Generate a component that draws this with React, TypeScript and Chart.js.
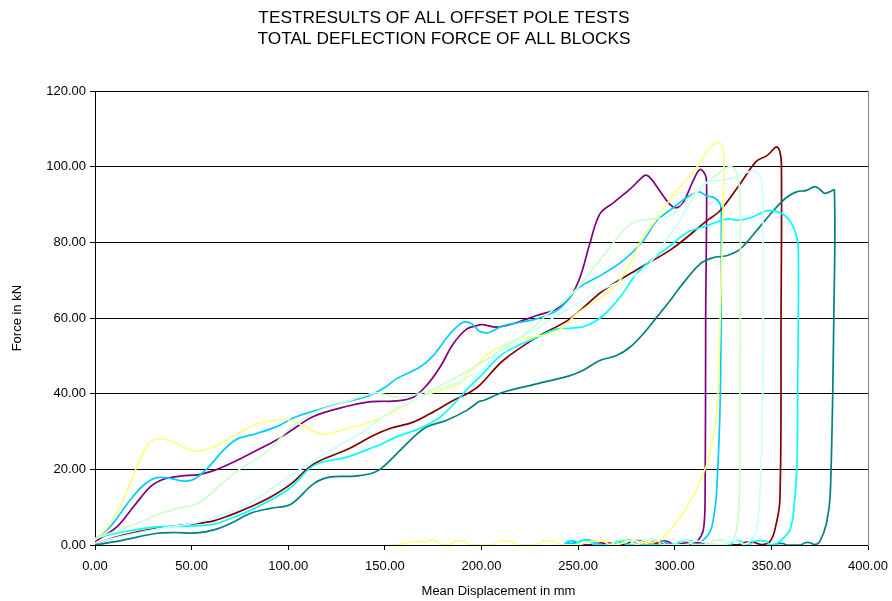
import { useEffect, useRef } from 'react';
import { Chart, registerables } from 'chart.js';

Chart.register(...registerables);

const WIDTH = 892;
const HEIGHT = 601;
const FONT = "'Liberation Sans', Arial, Helvetica, sans-serif";

const titleLines = ['TESTRESULTS OF ALL OFFSET POLE TESTS', 'TOTAL DEFLECTION FORCE OF ALL BLOCKS'];
const xAxisCaption = 'Mean Displacement in mm';
const yAxisCaption = 'Force in kN';

const xTickStep = 50;
const xMax = 400;
const yTickStep = 20;
const yMax = 120;

// Measured curves: [mean displacement (mm), force (kN)] in recording order,
// including the unloading path back along the baseline after failure.
const testYellow: [number, number][] = [
  [0, 1.2], [7, 5], [14.7, 11.9], [21.6, 20.6], [27.7, 26.8], [33.8, 28.1], [40.7, 27.2], [49.4, 25.1],
  [54.5, 24.9], [63.2, 26.4], [73.6, 29.4], [84, 32.1], [94.4, 33.1], [101, 33], [108, 31.5], [116.9, 29.3],
  [124, 29.8], [130.7, 30.8], [138, 31.8], [144.6, 33], [150.5, 34.2], [156, 35.6], [168, 39.1], [178.5, 40.9],
  [189, 42.8], [194, 46], [199.2, 48.3], [204.4, 51], [220, 54.5], [235.4, 55.8], [242.3, 57.6], [249.2, 61.1],
  [263, 65.9], [270, 69], [276.8, 74.3], [283, 80.8], [291, 86.5], [299.2, 92.5], [311.3, 99.8], [318.2, 105],
  [322, 106.5], [324.7, 105.5], [325.5, 102.4], [325.1, 91.9], [323.6, 62], [321.6, 34.8], [317.3, 22.4],
  [313.9, 18], [311.2, 14.5], [304.3, 8.4], [297.5, 4], [292.3, 1.3], [285.4, 0.5], [281, 1.0], [276, 1.1],
  [272, 0.3], [266, 0.2], [263, 1.0], [258, 1.1], [253, 0.4], [249, 0.1], [241, 0.1], [237, 1.0], [232, 1.0],
  [228.5, 0.1], [218.5, 0.1], [215, 1.0], [209.5, 1.0], [206, 0.1], [194, 0.1], [191, 1.0], [186.5, 1.0],
  [183.5, 0.1], [179.5, 0.1], [175, 1.3], [170, 0.8], [166, 1.0], [162, 0.6], [158, 0.2], [152, 0],
];

const testBlue: [number, number][] = [
  [0, 1.5], [7.8, 4.8], [18.2, 11.9], [25.1, 15.8], [32, 17.8], [39, 17.6], [45.9, 16.9], [51, 17.3],
  [58, 20.2], [66.5, 25.1], [73.5, 28], [83.7, 29.5], [94, 31.3], [101, 33.2], [104.5, 34], [113, 35.4],
  [127, 37.5], [139, 39], [144, 40], [151, 42], [156, 44], [168, 47], [175, 50.1], [183.6, 55.8],
  [190.5, 58.9], [195, 58.5], [199, 56.5], [204, 56.2], [211, 58], [220, 58.9], [228.5, 59.8], [239, 62],
  [245.8, 65.5], [249.2, 67.7], [263, 71.7], [273.3, 75.2], [283.6, 80.4], [290.6, 85.7], [299.2, 89.2],
  [306.2, 91.9], [312.6, 93.4], [316.5, 92.3], [319.9, 92], [322.4, 91], [323.8, 89.7], [324.1, 83],
  [323.6, 40], [321.6, 13.6], [319.9, 6.6], [318.2, 3.5], [314.7, 1.3], [311, 0.3], [308.5, 1.1], [304, 1.1],
  [300, 0.2], [297, 0.2], [294, 1.0], [289, 1.0], [286, 0.2], [280.5, 0.2], [278, 1.2], [273, 1.2],
  [270.5, 0.2], [260, 0.3], [257, 1.2], [252, 1.2], [249, 0.3], [246, 1.0], [244, 0.5], [248, 0.2], [251, 0],
];

const testPurple: [number, number][] = [
  [0, 0.9], [11.3, 4.8], [19.9, 10.1], [28.6, 15.4], [35.5, 17.4], [44.2, 18.2], [54.5, 18.7], [63.2, 20],
  [73.6, 22.4], [84, 25.1], [94.4, 27.9], [101.3, 30.2], [113, 34], [130.5, 36.7], [141, 37.8], [148, 38],
  [156, 38.1], [164.7, 39.1], [171.6, 42.2], [178.5, 47], [185.4, 53.2], [192.3, 57.1], [199, 58.2],
  [201, 58.3], [207.8, 57.6], [216.4, 58.5], [228.5, 60.7], [238.8, 62.4], [245.8, 65.5], [251, 70.8],
  [256, 79.6], [261.2, 87.5], [268.2, 90.5], [276.8, 94.1], [282, 96.7], [285, 97.8], [288, 96.7],
  [292.3, 93.6], [297.5, 90.1], [301, 89.2], [304.3, 90.5], [309.5, 96.3], [313, 99.3], [315.7, 98],
  [316.5, 95.8], [316, 60], [315.7, 11.9], [314.8, 4], [312.2, 1.3], [309, 0.2], [306, 0.6], [302, 0.2],
  [299, 0.2], [296, 1.0], [292, 0.9], [289, 0.1], [285.5, 0.2], [283, 1.0], [277.5, 1.0], [275, 0.2],
  [266, 0.1], [262, 0.6], [258, 0.1], [250, 0.1], [248, 0.9], [245, 0.9], [243, 0.2],
];

const testLightGreen: [number, number][] = [
  [0, 1.6], [7.8, 3.1], [19.9, 5.3], [32, 7.9], [42.4, 9.7], [51.1, 10.5], [58, 12.7], [66.7, 16.7],
  [75.3, 20.2], [84, 22.9], [92.6, 26.4], [100, 30.5], [113.4, 35], [130.7, 38], [144.6, 40.2], [150, 39.8],
  [156, 39.1], [164.7, 39.6], [175, 41.3], [188.8, 44.8], [199, 47.9], [220, 54.9], [235.4, 61.5],
  [249.2, 67.7], [266.4, 78.7], [276.8, 84.8], [287, 86.2], [292.3, 86.4], [299.2, 87.5], [307.8, 91.9],
  [316.5, 95.8], [323.4, 98.5], [326.8, 99.8], [329.5, 100], [332, 98.5], [333.3, 95.4], [334, 87.5],
  [333.8, 40], [333.4, 11.9], [332, 4], [330.2, 1.3], [327, 0.3], [325.5, 1.2], [320, 1.2], [318, 0.2],
  [309, 0.2], [307.5, 1.1], [302, 1.1], [299.5, 0.2], [293, 0.2], [291, 1.3], [284, 1.3], [281.5, 0.2],
  [279, 0.3], [277, 1.2], [269.5, 1.2], [267.5, 0.2], [265, 0],
];

const testDarkRed: [number, number][] = [
  [0, 0.3], [14.7, 2.6], [32, 4.4], [49.4, 5.5], [61.5, 6.4], [70.1, 7.9], [80.5, 10.1], [90.9, 12.7],
  [101.3, 16.1], [113.4, 21.5], [130.7, 25.3], [144.3, 29], [152.6, 30.8], [164.7, 32.5], [173.3, 34.7],
  [185.4, 38.2], [194, 40.4], [199, 42.2], [211.2, 48.8], [228.5, 54.9], [245.8, 59.8], [263, 67.3],
  [281, 73], [298.5, 78.3], [316.5, 85.7], [323.4, 88.4], [333.7, 95.4], [342.3, 101.5], [347.5, 102.9],
  [351, 104.6], [352.6, 105.3], [354.3, 104.2], [355.2, 100.7], [355, 60], [354.4, 11.9], [351.8, 4],
  [349.2, 0.9], [345, 0.1], [341, 0.7], [336.5, 0.7], [333, 0.1], [318, 0.1], [314, 0.6], [309.5, 0.6],
  [306, 0.1], [295, 0.1], [292, 0.6], [287, 0.6], [284, 0.1], [270, 0.1], [266, 0.5], [262, 0.1], [258, 0],
];

const testTeal: [number, number][] = [
  [0, 0], [14.7, 1.3], [32, 3.1], [40.7, 3.3], [52.8, 3.2], [61.5, 4], [70.1, 5.7], [80.5, 8.4], [90.9, 9.7],
  [101.3, 10.8], [113.4, 16.3], [122.1, 18], [134.2, 18.2], [142.9, 18.9], [148, 20.2], [158, 25.1],
  [165, 28.6], [171.6, 31.2], [182, 33], [192.3, 35.6], [199, 38], [201, 38.2], [211.2, 40.4],
  [228.5, 42.6], [245.8, 44.8], [252.6, 46.2], [261.2, 48.8], [269.9, 50.1], [276.8, 52.3], [283.6, 55.8],
  [290.6, 60.2], [297.5, 64.6], [302.6, 68.1], [313, 74.3], [319.9, 76], [326.8, 76.5], [333.7, 78.2],
  [342.3, 83.1], [351, 88.4], [357.8, 91.9], [363, 93.4], [368.2, 93.8], [372.5, 94.8], [375, 94.1],
  [377.6, 93], [380.2, 93.4], [382.6, 93.8], [382.3, 60], [380.5, 13.6], [378.5, 5.7], [375, 0.9],
  [372.5, 0.1], [370, 0.6], [367.5, 0.6], [365, 0], [358, 0], [356, 0.4], [353.5, 0.4], [351, 0],
];

const testCyan: [number, number][] = [
  [0, 1.8], [14.7, 3.5], [32, 4.8], [49.4, 5], [61.5, 5.5], [70.1, 7], [80.5, 9.2], [90.9, 11.9],
  [101.3, 15.2], [113.4, 21.1], [130.7, 23.3], [144.3, 25.9], [148, 26.6], [156, 28.6], [168, 30.8],
  [178.5, 33.8], [188.8, 39], [194, 42], [199.2, 44.5], [211.2, 50.6], [228.5, 54.9], [238.8, 57.1],
  [245.8, 57.3], [254.3, 58], [263, 60.7], [271.6, 65.5], [280.2, 71.7], [290.6, 76.5], [297.5, 79.1],
  [306.2, 82.6], [316.5, 84.4], [326.8, 86.2], [333.7, 85.9], [340.6, 86.8], [347.5, 88.4], [354.4, 87.9],
  [359.6, 85.7], [363.2, 81.3], [364, 76], [363.6, 40], [363.2, 20.6], [361.4, 8.4], [359.6, 4],
  [356.2, 1.8], [352.8, 0.4], [349, 0.2], [347.5, 1.0], [341, 1.0], [339, 0.2], [335.5, 0.2], [334.5, 1.0],
  [330.5, 1.0], [329, 0.2], [310, 0.2], [308, 1.0], [303, 1.0], [301, 0.2], [275, 0.2], [273, 0.9],
  [270, 0.9], [268, 0.2], [258, 0.2], [256, 1.1], [251, 1.1], [249.5, 0.3], [249, 1.0], [244.5, 1.0],
  [243, 0.2],
];

const testLightCyan: [number, number][] = [
  [0, 0.5], [15, 2.4], [30, 4], [52.4, 5.9], [65, 7.8], [78.5, 10.5], [96, 16.6], [113, 22.2], [125, 26],
  [139, 30], [151, 34.6], [164.7, 38.2], [175, 40.9], [188.8, 43.1], [194, 44.8], [199.2, 45.7],
  [211.2, 52.3], [228.5, 57.1], [238.8, 60.7], [249.2, 63.7], [263, 67.7], [276.8, 70.8], [283.6, 72.5],
  [290.6, 76.9], [297.5, 82.2], [302.6, 85.7], [309.5, 91.9], [316.5, 95.8], [323.4, 96.5], [330.2, 97.1],
  [337.1, 98.5], [341.4, 98.9], [344, 97.6], [345.3, 94.5], [345.7, 86.6], [345.5, 40], [344, 11.9],
  [342.3, 4], [339.7, 1.3], [336, 0.2], [333, 0.9], [328.5, 0.9], [326, 0.2], [317, 0.2], [314, 0.9],
  [309.5, 0.9], [307, 0.2], [300, 0],
];

const seriesList: { label: string; color: string; points: [number, number][] }[] = [
  { label: 'Test A', color: '#CCFFFF', points: testLightCyan },
  { label: 'Test B', color: '#CCFFCC', points: testLightGreen },
  { label: 'Test C', color: '#FFFF80', points: testYellow },
  { label: 'Test D', color: '#00FFFF', points: testCyan },
  { label: 'Test E', color: '#008080', points: testTeal },
  { label: 'Test F', color: '#800000', points: testDarkRed },
  { label: 'Test G', color: '#00CCFF', points: testBlue },
  { label: 'Test H', color: '#800080', points: testPurple },
];

// Horizontal axis caption, set slightly right of the plot centre.
const xCaption = {
  id: 'xCaption',
  afterDraw(chart: Chart) {
    const { ctx, chartArea } = chart;
    ctx.save();
    ctx.font = `13px ${FONT}`;
    ctx.fillStyle = '#000';
    ctx.textAlign = 'center';
    ctx.textBaseline = 'middle';
    ctx.fillText(xAxisCaption, (chartArea.left + chartArea.right) / 2 + 17, chartArea.bottom + 46);
    ctx.restore();
  },
};

export default function App() {
  const canvasRef = useRef<HTMLCanvasElement>(null);

  useEffect(() => {
    const canvas = canvasRef.current;
    if (!canvas) return;
    const chart = new Chart(canvas, {
      type: 'scatter',
      data: {
        datasets: seriesList.map((s) => ({
          label: s.label,
          data: s.points.map(([x, y]) => ({ x, y })),
          showLine: true,
          borderColor: s.color,
          backgroundColor: s.color,
          borderWidth: 1.7,
          pointRadius: 0,
          pointHoverRadius: 0,
          tension: 0.35,
          fill: false,
          yAxisID: 'y',
        })),
      },
      options: {
        responsive: false,
        animation: false,
        devicePixelRatio: 1,
        layout: { padding: { top: 0, right: 4, bottom: 0, left: 0 } },
        plugins: {
          legend: { display: false },
          tooltip: { enabled: false },
          title: {
            display: true,
            text: titleLines,
            color: '#000',
            font: { family: FONT, size: 17.3, weight: 'normal', lineHeight: 1.25 },
            padding: { top: 7, bottom: 41 },
          },
        },
        scales: {
          x: {
            type: 'linear',
            min: 0,
            max: xMax,
            afterFit(scale: any) {
              scale.height = 56;
              scale.paddingLeft = 0;
              scale.paddingRight = 0;
            },
            ticks: {
              stepSize: xTickStep,
              color: '#000',
              padding: 9,
              maxRotation: 0,
              font: { family: FONT, size: 13 },
              callback: (v: any) => Number(v).toFixed(2),
            },
            grid: { drawOnChartArea: false, drawTicks: true, tickLength: 5, color: '#000' },
            border: { display: true, color: '#000', width: 1 },
          },
          y: {
            type: 'linear',
            min: 0,
            max: yMax,
            afterFit(scale: any) {
              scale.width = 95;
            },
            ticks: {
              stepSize: yTickStep,
              color: '#000',
              padding: 4,
              font: { family: FONT, size: 13 },
              callback: (v: any) => Number(v).toFixed(2),
            },
            grid: { drawOnChartArea: true, drawTicks: true, tickLength: 5, color: '#000', lineWidth: 1 },
            border: { display: true, color: '#000', width: 1 },
            title: {
              display: true,
              text: yAxisCaption,
              color: '#000',
              font: { family: FONT, size: 13 },
              padding: { top: 10, bottom: 0 },
            },
          },
          // Right-hand frame edge of the plot area (no ticks or labels).
          yFrame: {
            type: 'linear',
            position: 'right',
            min: 0,
            max: yMax,
            afterFit(scale: any) {
              scale.width = 20;
            },
            ticks: { display: false },
            grid: { display: false, drawTicks: false },
            border: { display: true, color: '#808080', width: 1 },
          },
        },
      },
      plugins: [xCaption],
    });
    return () => chart.destroy();
  }, []);

  return (
    <div style={{ position: 'fixed', left: 0, top: 0, width: WIDTH, height: HEIGHT, background: '#fff' }}>
      <canvas ref={canvasRef} width={WIDTH} height={HEIGHT} style={{ display: 'block', width: WIDTH, height: HEIGHT }} />
    </div>
  );
}
